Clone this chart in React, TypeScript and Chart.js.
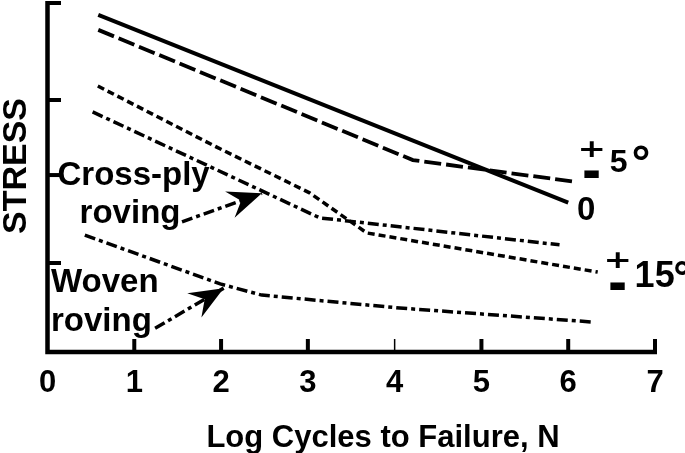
import React, { useEffect, useRef } from "react";
import { Chart, registerables } from "chart.js";

Chart.register(...registerables);

// ---- data (x = log cycles to failure, y = relative stress units) ----
const xTickValues = [0, 1, 2, 3, 4, 5, 6, 7];
const yTickValues = [25.5, 50.7, 72.2, 100];

const zeroDegX = [0.585, 6.0];
const zeroDegY = [96.6, 42.8];

const fiveDegX = [0.585, 4.21, 6.1];
const fiveDegY = [92.3, 55.0, 48.7];

const fifteenDegX = [0.58, 1.95, 3.02, 3.68, 6.34];
const fifteenDegY = [76.2, 58.7, 45.6, 34.1, 22.9];

const crossPlyX = [0.52, 3.14, 3.37, 5.9];
const crossPlyY = [68.8, 38.4, 37.8, 30.7];

const wovenX = [0.43, 1.99, 2.47, 4.06, 6.27];
const wovenY = [33.5, 19.5, 16.3, 12.6, 8.6];

const crossArrowX = [1.55, 2.47];
const crossArrowY = [37.3, 45.5];

const wovenArrowX = [1.24, 2.03];
const wovenArrowY = [6.8, 18.3];

const FONT = '"Liberation Sans", Arial, Helvetica, sans-serif';
const NARROW = '"Liberation Sans Narrow", "Arial Narrow", "Liberation Sans", Arial, sans-serif';
const SYMBOL = '"DejaVu Sans", "Liberation Sans", sans-serif';

const pts = (xs: number[], ys: number[]) => xs.map((x, i) => ({ x, y: ys[i] }));

const lineDs = (label: string, xs: number[], ys: number[], dash: number[], width: number) => ({
  label,
  data: pts(xs, ys),
  borderColor: "#000",
  borderWidth: width,
  borderDash: dash,
  borderCapStyle: "butt" as const,
  borderJoinStyle: "miter" as const,
  pointRadius: 0,
  fill: false,
  tension: 0,
});

const DASH_LONG = [17, 5];
const DASH_SHORT = [7, 4];
const DASH_DOT = [11, 4, 4, 4];

const annotationPlugin = {
  id: "annotations",
  afterDraw(chart: any) {
    const { ctx } = chart;
    const xs = chart.scales.x;
    const ys = chart.scales.y;
    const px = (v: number) => xs.getPixelForValue(v);
    const py = (v: number) => ys.getPixelForValue(v);
    const x0 = px(0);
    const yBottom = py(0);
    const yTop = py(100);
    const xRight = px(7);

    ctx.save();
    ctx.strokeStyle = "#000";
    ctx.fillStyle = "#000";
    ctx.lineCap = "butt";

    // axis lines
    ctx.lineWidth = 4.5;
    ctx.beginPath();
    ctx.moveTo(x0, yTop - 2);
    ctx.lineTo(x0, yBottom);
    ctx.lineTo(xRight + 2, yBottom);
    ctx.stroke();

    // x tick marks (pointing inwards)
    xs.ticks.forEach((t: any) => {
      if (t.value === 0) return;
      ctx.lineWidth = t.value === 4 ? 1.5 : 4;
      ctx.beginPath();
      ctx.moveTo(px(t.value), yBottom);
      ctx.lineTo(px(t.value), yBottom - 13);
      ctx.stroke();
    });
    // y tick marks (pointing inwards)
    ctx.lineWidth = 4;
    yTickValues.forEach((v) => {
      ctx.beginPath();
      ctx.moveTo(x0, py(v));
      ctx.lineTo(x0 + 13.5, py(v));
      ctx.stroke();
    });

    // arrow heads
    const head = (tx: number[], ty: number[]) => {
      const ax = px(tx[1]);
      const ay = py(ty[1]);
      const bx = px(tx[0]);
      const by = py(ty[0]);
      const len = Math.hypot(ax - bx, ay - by);
      const ux = (ax - bx) / len;
      const uy = (ay - by) / len;
      const nx = -uy;
      const ny = ux;
      const L = 34;
      const W = 14;
      ctx.beginPath();
      ctx.moveTo(ax, ay);
      ctx.lineTo(ax - L * ux + W * nx, ay - L * uy + W * ny);
      ctx.lineTo(ax - 22 * ux, ay - 22 * uy);
      ctx.lineTo(ax - L * ux - W * nx, ay - L * uy - W * ny);
      ctx.closePath();
      ctx.fill();
    };
    head(crossArrowX, crossArrowY);
    head(wovenArrowX, wovenArrowY);

    // text labels
    ctx.textAlign = "left";
    ctx.textBaseline = "alphabetic";
    const txt = (s: string, x: number, y: number, size: number, fam = FONT) => {
      ctx.font = `bold ${size}px ${fam}`;
      ctx.fillText(s, px(x), py(y));
    };
    txt("Cross-ply", 0.115, 47.9, 33);
    txt("roving", 0.37, 36.9, 33);
    txt("Woven", 0.04, 17.2, 33);
    txt("roving", 0.04, 6.0, 33);
    txt("0", 6.1, 37.8, 33);
    txt("5", 6.48, 51.6, 32);
    txt("°", 6.71, 49.6, 45, SYMBOL);
    txt("15", 6.765, 18.6, 36);
    txt("°", 7.19, 16.9, 42, SYMBOL);

    // plus-minus signs drawn as "+" over a heavy "–"
    const plusMinus = (cx: number, cyPlus: number, cyBar: number) => {
      ctx.textAlign = "center";
      ctx.textBaseline = "middle";
      ctx.save();
      ctx.translate(px(cx), py(cyPlus));
      ctx.scale(1, 0.75);
      ctx.font = `bold 34px ${SYMBOL}`;
      ctx.fillText("+", 0, 0);
      ctx.restore();
      ctx.save();
      ctx.translate(px(cx), py(cyBar));
      ctx.scale(1, 2.6);
      ctx.font = `bold 29px ${FONT}`;
      ctx.fillText("\u2013", 0, 0);
      ctx.restore();
    };
    plusMinus(6.27, 57.9, 51.0);
    plusMinus(6.57, 25.9, 18.9);

    // axis titles
    ctx.textAlign = "center";
    ctx.textBaseline = "alphabetic";
    ctx.font = `bold 31px ${FONT}`;
    ctx.fillText("Log Cycles to Failure, N", 383, 447);

    ctx.save();
    ctx.translate(26, 166);
    ctx.rotate(-Math.PI / 2);
    ctx.font = `bold 34px ${FONT}`;
    ctx.fillText("STRESS", 0, 0);
    ctx.restore();

    ctx.restore();
  },
};

export default function App() {
  const ref = useRef<HTMLCanvasElement>(null);
  useEffect(() => {
    document.body.style.margin = "0";
    const chart = new Chart(ref.current as HTMLCanvasElement, {
      type: "line",
      data: {
        datasets: [
          lineDs("0°", zeroDegX, zeroDegY, [], 4),
          lineDs("±5°", fiveDegX, fiveDegY, DASH_LONG, 3.8),
          lineDs("±15°", fifteenDegX, fifteenDegY, DASH_SHORT, 3.5),
          lineDs("Cross-ply roving", crossPlyX, crossPlyY, DASH_DOT, 3.5),
          lineDs("Woven roving", wovenX, wovenY, DASH_DOT, 3.5),
          lineDs("cross arrow", crossArrowX, crossArrowY, DASH_DOT, 3.5),
          lineDs("woven arrow", wovenArrowX, wovenArrowY, DASH_DOT, 3.5),
        ],
      },
      options: {
        animation: false,
        responsive: false,
        devicePixelRatio: 1,
        layout: { padding: { top: 3, right: 30, left: 0, bottom: 0 } },
        plugins: { legend: { display: false }, tooltip: { enabled: false } },
        scales: {
          x: {
            type: "linear",
            min: 0,
            max: 7,
            afterBuildTicks: (s: any) => {
              s.ticks = xTickValues.map((v) => ({ value: v }));
            },
            grid: { display: false, drawTicks: false },
            border: { display: false },
            ticks: {
              color: "#000",
              font: { family: NARROW, size: 31, weight: "bold" },
              padding: 13,
              maxRotation: 0,
              autoSkip: false,
            },
            afterFit: (s: any) => {
              s.height = 101;
            },
          },
          y: {
            type: "linear",
            min: 0,
            max: 100,
            grid: { display: false, drawTicks: false },
            border: { display: false },
            ticks: { display: false },
            afterFit: (s: any) => {
              s.width = 47.5;
            },
          },
        },
      },
      plugins: [annotationPlugin],
    });
    return () => chart.destroy();
  }, []);
  return (
    <div style={{ position: "fixed", left: 0, top: 0, width: 685, height: 453, background: "#fff" }}>
      <canvas ref={ref} width={685} height={453} style={{ display: "block", width: 685, height: 453 }} />
    </div>
  );
}
